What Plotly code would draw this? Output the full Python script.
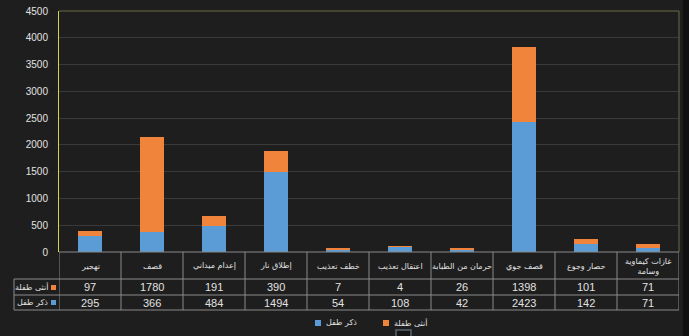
import plotly.graph_objects as go

categories = ["تهجير", "قصف", "إعدام ميداني", "إطلاق نار", "خطف تعذيب",
              "اعتقال تعذيب", "حرمان من الطبابة", "قصف جوي", "حصار وجوع",
              "غازات كيماوية<br>وسامة"]
female = [97, 1780, 191, 390, 7, 4, 26, 1398, 101, 71]
male = [295, 366, 484, 1494, 54, 108, 42, 2423, 142, 71]
name_female = "أنثى طفلة"
name_male = "ذكر طفل"
y_ticks = [0, 500, 1000, 1500, 2000, 2500, 3000, 3500, 4000, 4500]

BLUE = "#5b9bd6"
ORANGE = "#f0843a"
BG = "#1e1e1e"
TXT = "#e2e2e2"
ARFONT = "DejaVu Sans"

W, H = 689, 336
L, R, T, B = 59, 10, 11, 84
PH = H - T - B
PW = W - L - R

def py(p):
    return (H - B - p) / PH

def px(p):
    return (p - L) / PW

x = list(range(len(categories)))

fig = go.Figure()
fig.add_trace(go.Bar(x=x, y=male, name=name_male, marker=dict(color=BLUE, line=dict(width=0)),
                     width=0.4, showlegend=False))
fig.add_trace(go.Bar(x=x, y=female, name=name_female, marker=dict(color=ORANGE, line=dict(width=0)),
                     width=0.4, showlegend=False))

shapes = []
ann = []
GRID = "#8a8a8a"
for yy in [279, 295, 310]:
    shapes.append(dict(type="line", xref="paper", yref="paper", x0=px(14), x1=1, y0=py(yy), y1=py(yy),
                       line=dict(color=GRID, width=1)))
shapes.append(dict(type="line", xref="paper", yref="paper", x0=0, x1=1, y0=0, y1=0,
                   line=dict(color=GRID, width=1)))
for i in range(len(categories) + 1):
    shapes.append(dict(type="line", xref="x", yref="paper", x0=i - 0.5, x1=i - 0.5, y0=0, y1=py(310),
                       line=dict(color=GRID, width=1)))
shapes.append(dict(type="line", xref="paper", yref="paper", x0=px(14), x1=px(14), y0=py(279), y1=py(310),
                   line=dict(color=GRID, width=1)))
shapes.append(dict(type="line", xref="paper", yref="paper", x0=0, x1=1, y0=1, y1=1,
                   line=dict(color="#6a6a45", width=1)))
shapes.append(dict(type="line", xref="paper", yref="paper", x0=1, x1=1, y0=0, y1=1,
                   line=dict(color="#6a6a45", width=1)))
shapes.append(dict(type="rect", xref="paper", yref="paper", x0=px(683), x1=px(690), y0=py(-2), y1=py(340),
                   fillcolor="#101010", line=dict(width=0), layer="below"))
shapes.append(dict(type="rect", xref="paper", yref="paper", x0=px(396), x1=px(411), y0=py(330), y1=py(338),
                   fillcolor="#141414", line=dict(color="#5a6670", width=1.5)))
# table header keys
shapes.append(dict(type="rect", xref="paper", yref="paper", x0=px(51), x1=px(56), y0=py(290), y1=py(285),
                   fillcolor=ORANGE, line=dict(width=0)))
shapes.append(dict(type="rect", xref="paper", yref="paper", x0=px(51), x1=px(56), y0=py(305), y1=py(300),
                   fillcolor=BLUE, line=dict(width=0)))
# legend keys
shapes.append(dict(type="rect", xref="paper", yref="paper", x0=px(315), x1=px(321), y0=py(326), y1=py(320),
                   fillcolor=BLUE, line=dict(width=0)))
shapes.append(dict(type="rect", xref="paper", yref="paper", x0=px(383), x1=px(389), y0=py(326), y1=py(320),
                   fillcolor=ORANGE, line=dict(width=0)))
ann.append(dict(x=px(324), y=py(322.5), xref="paper", yref="paper", text=name_male, showarrow=False,
                xanchor="left", yanchor="middle", font=dict(family=ARFONT, size=8, color=TXT)))
ann.append(dict(x=px(392), y=py(322.5), xref="paper", yref="paper", text=name_female, showarrow=False,
                xanchor="left", yanchor="middle", font=dict(family=ARFONT, size=8, color=TXT)))

for i, c in enumerate(categories):
    ann.append(dict(x=i, y=py(266), xref="x", yref="paper", text=c, showarrow=False,
                    font=dict(family=ARFONT, size=8, color=TXT), yanchor="middle"))
    ann.append(dict(x=i, y=py(287), xref="x", yref="paper", text=str(female[i]), showarrow=False,
                    font=dict(family="Liberation Sans", size=11, color=TXT), yanchor="middle"))
    ann.append(dict(x=i, y=py(302.5), xref="x", yref="paper", text=str(male[i]), showarrow=False,
                    font=dict(family="Liberation Sans", size=11, color=TXT), yanchor="middle"))
ann.append(dict(x=px(50), y=py(287), xref="paper", yref="paper", text=name_female, showarrow=False,
                xanchor="right", yanchor="middle", font=dict(family=ARFONT, size=8, color=TXT)))
ann.append(dict(x=px(50), y=py(302.5), xref="paper", yref="paper", text=name_male, showarrow=False,
                xanchor="right", yanchor="middle", font=dict(family=ARFONT, size=8, color=TXT)))

fig.update_layout(
    width=W, height=H, barmode="stack",
    margin=dict(l=L, r=R, t=T, b=B, autoexpand=False),
    paper_bgcolor=BG, plot_bgcolor=BG,
    shapes=shapes, annotations=ann,
    showlegend=False,
    xaxis=dict(range=[-0.5, 9.5], showticklabels=False, showgrid=False, zeroline=False, showline=False,
               fixedrange=True),
    yaxis=dict(range=[0, 4500], tickvals=y_ticks, showgrid=True, gridcolor="#3a3a3a", gridwidth=1,
               zeroline=False, showline=True, linecolor="#d4d44c", linewidth=1,
               tickfont=dict(family="Liberation Sans", size=10, color=TXT), ticklabelstandoff=8),
    bargap=0.6,
)

fig.write_html("out.html")
